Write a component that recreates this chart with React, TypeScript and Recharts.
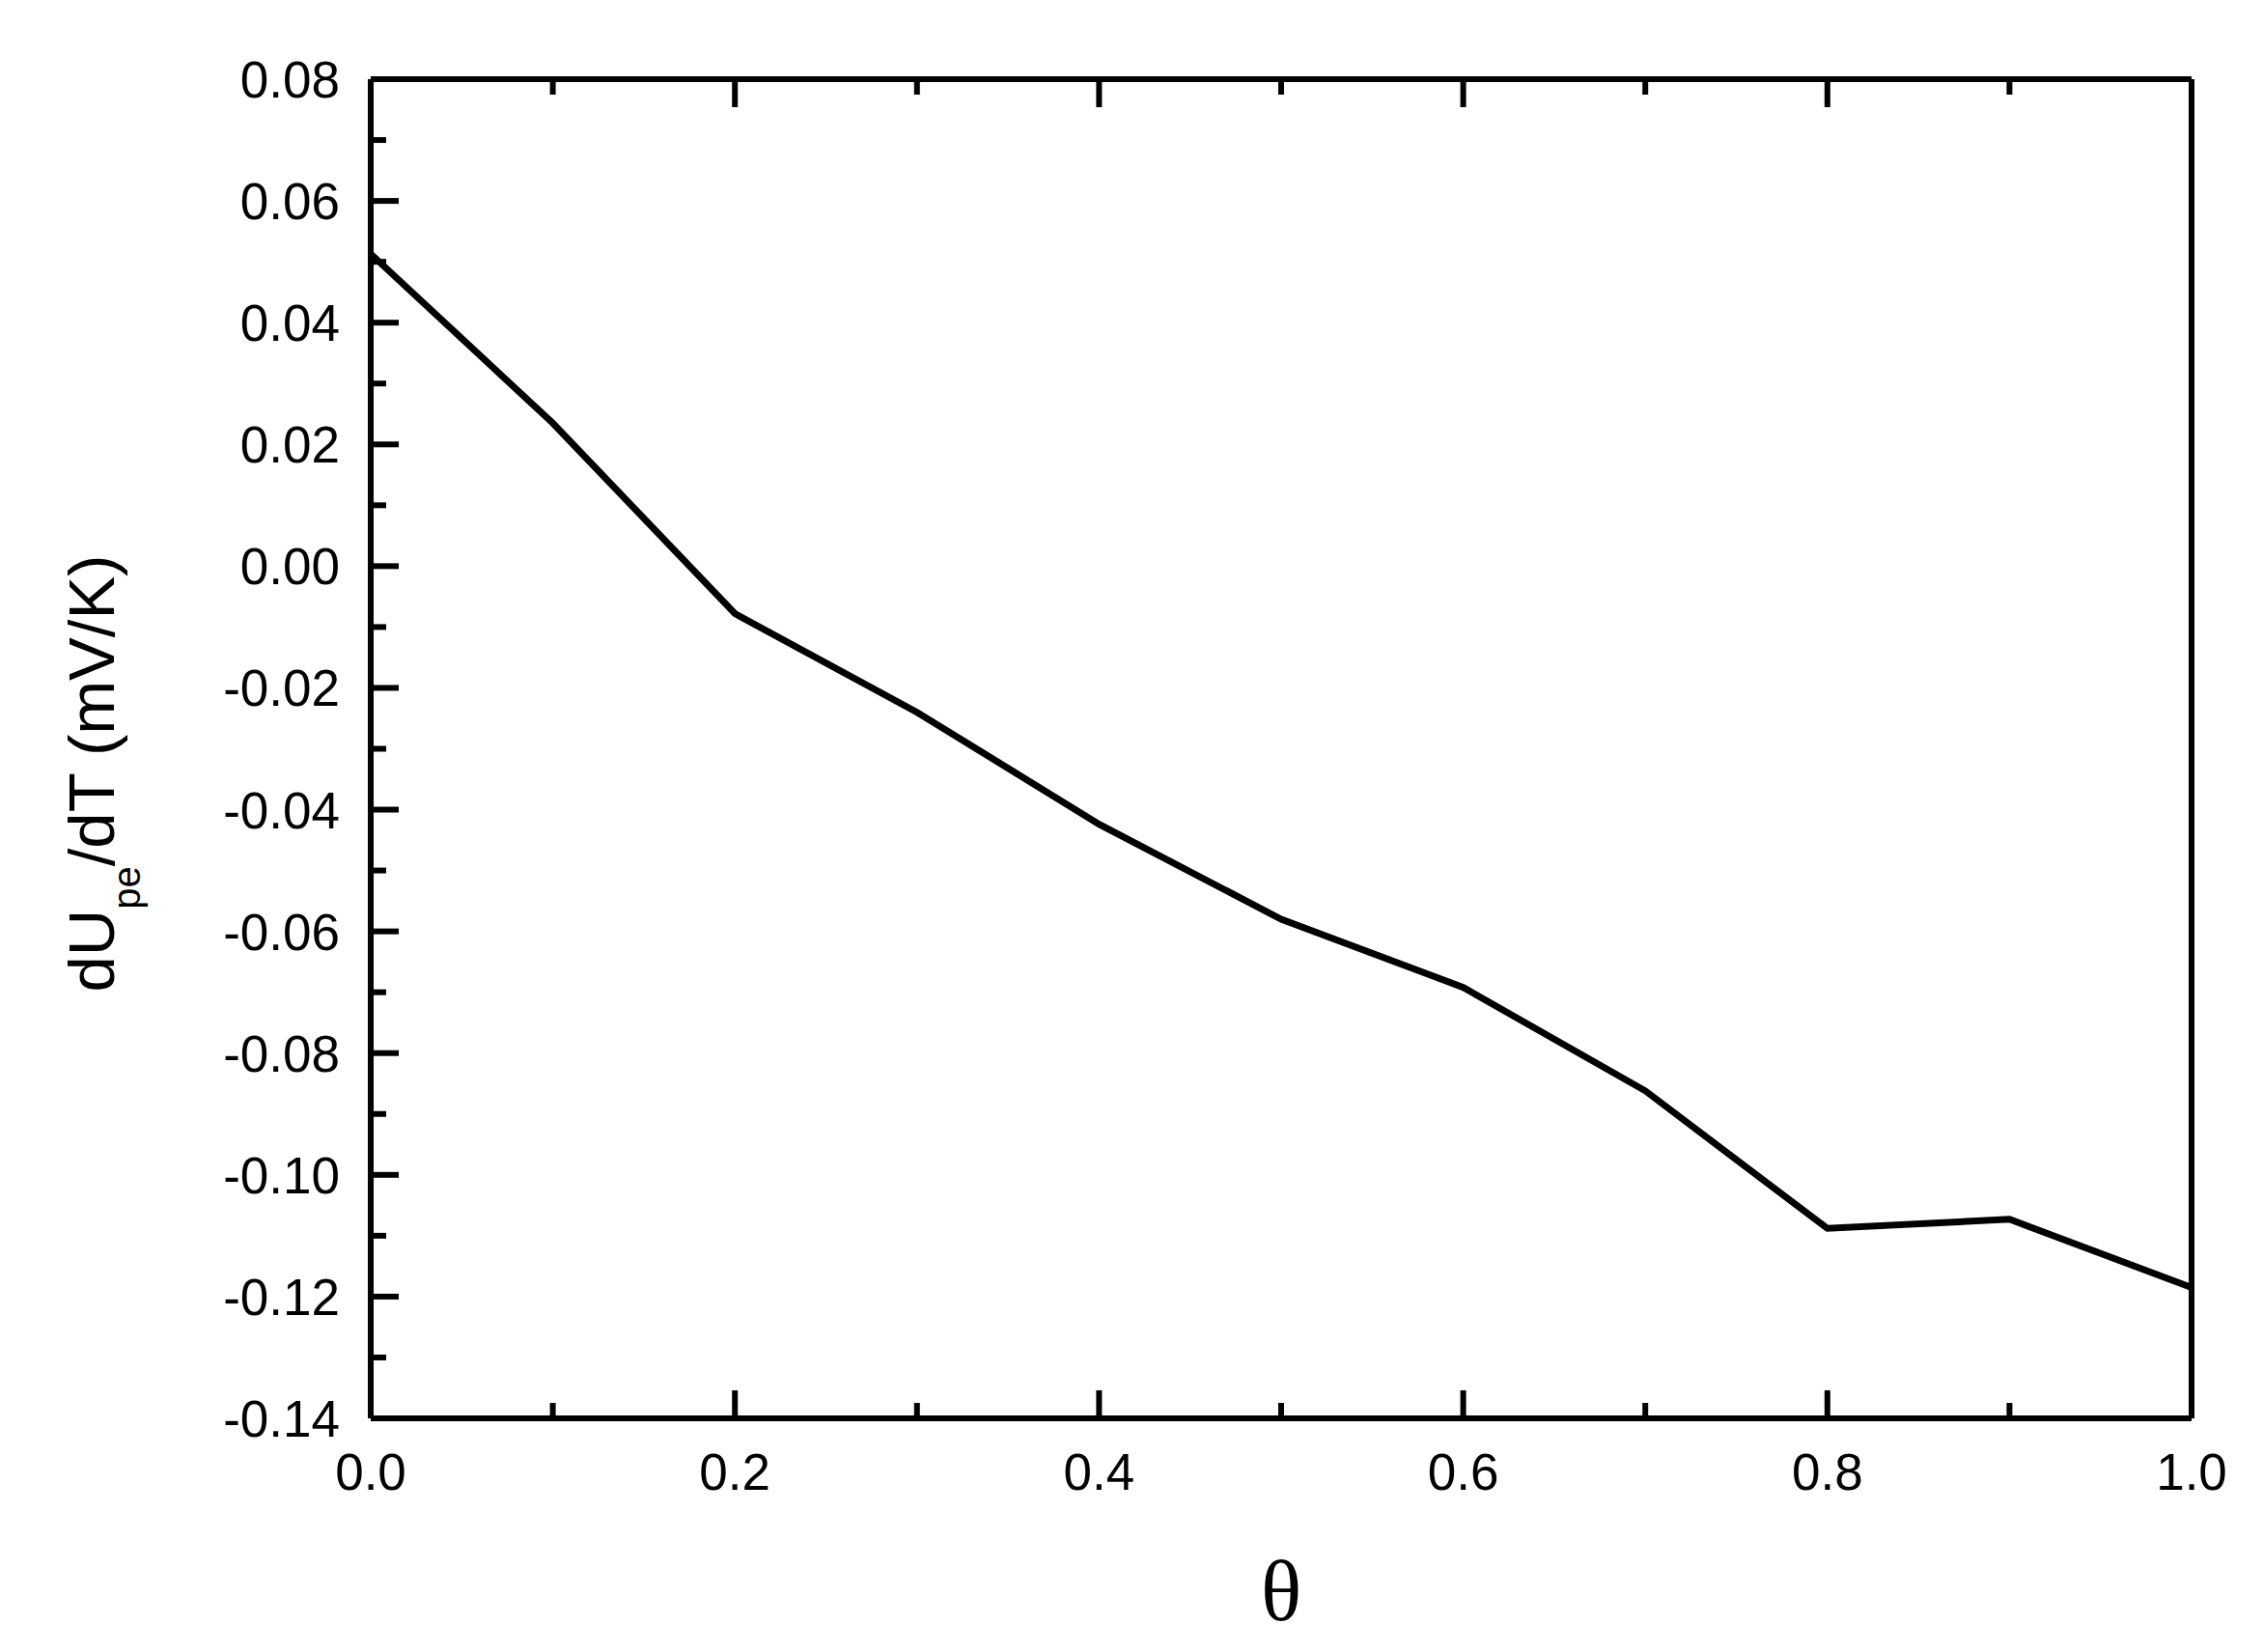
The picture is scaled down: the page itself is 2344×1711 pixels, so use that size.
import React from "react";
import { LineChart, Line, XAxis, YAxis } from "recharts";

// theta values and dU_pe/dT (mV/K)
const theta = [0, 0.1, 0.2, 0.3, 0.4, 0.5, 0.6, 0.7, 0.8, 0.9, 1.0];
const dUdT = [0.0513, 0.0235, -0.0078, -0.024, -0.0424, -0.058, -0.0692, -0.0862, -0.1088, -0.1073, -0.1185];

const xTicks = [0, 0.1, 0.2, 0.3, 0.4, 0.5, 0.6, 0.7, 0.8, 0.9, 1.0];
const yTicks = [
  -0.14, -0.13, -0.12, -0.11, -0.1, -0.09, -0.08, -0.07, -0.06, -0.05, -0.04, -0.03,
  -0.02, -0.01, 0, 0.01, 0.02, 0.03, 0.04, 0.05, 0.06, 0.07, 0.08,
];

const data = theta.map((t, i) => ({ theta: t, value: dUdT[i] }));

const FONT = "'Liberation Sans', Arial, sans-serif";
const MAJOR = 29;
const MINOR = 16;
const TICK_W = 6;

const isMajorX = (v: number) => Math.round(v * 10) % 2 === 0;
const isMajorY = (v: number) => Math.round(v * 100) % 2 === 0;

const fmtY = (v: number) => {
  const s = Math.abs(v).toFixed(2);
  return v < -1e-9 ? "-" + s : s;
};

function BottomTick({ x, y, payload }: any) {
  const major = isMajorX(payload.value);
  return (
    <g>
      <line x1={x} x2={x} y1={y} y2={y - (major ? MAJOR : MINOR)} stroke="#000" strokeWidth={TICK_W} />
      {major && (
        <text x={x} y={y + 74} textAnchor="middle" fontSize={53} fontFamily={FONT} fill="#000">
          {payload.value.toFixed(1)}
        </text>
      )}
    </g>
  );
}

function TopTick({ x, y, payload }: any) {
  const major = isMajorX(payload.value);
  return <line x1={x} x2={x} y1={y} y2={y + (major ? MAJOR : MINOR)} stroke="#000" strokeWidth={TICK_W} />;
}

function LeftTick({ x, y, payload }: any) {
  const major = isMajorY(payload.value);
  return (
    <g>
      <line x1={x} x2={x + (major ? MAJOR : MINOR)} y1={y} y2={y} stroke="#000" strokeWidth={TICK_W} />
      {major && (
        <text x={x - 32} y={y + 19} textAnchor="end" fontSize={53} fontFamily={FONT} fill="#000">
          {fmtY(payload.value)}
        </text>
      )}
    </g>
  );
}

function RightTick({ x, y, payload }: any) {
  const major = isMajorY(payload.value);
  return <line x1={x} x2={x - (major ? MAJOR : MINOR)} y1={y} y2={y} stroke="#000" strokeWidth={TICK_W} />;
}

function YTitle() {
  const bx = 118;
  const cy = 801;
  return (
    <text
      x={bx}
      y={cy}
      transform={`rotate(-90, ${bx}, ${cy})`}
      textAnchor="middle"
      fontFamily={FONT}
      fontSize={67}
      fill="#000"
    >
      dU
      <tspan fontSize={40} dy={27}>pe</tspan>
      <tspan dy={-27}>/dT (mV/K)</tspan>
    </text>
  );
}

function XTitle({ viewBox }: any) {
  const cx = viewBox ? viewBox.x + viewBox.width / 2 : 1327;
  return (
    <text x={cx} y={1678} textAnchor="middle" fontFamily="'Liberation Serif', 'Times New Roman', serif" fontSize={88} fill="#000">
      θ
    </text>
  );
}

export default function App() {
  return (
    <div style={{ position: "absolute", left: 0, top: 0, width: 2344, height: 1711, background: "#fff" }}>
      <LineChart
        width={2344}
        height={1711}
        data={data}
        margin={{ top: 80, right: 72, left: 184, bottom: 142 }}
        style={{ fontFamily: FONT }}
      >
        <XAxis
          dataKey="theta"
          type="number"
          domain={[0, 1]}
          ticks={xTicks}
          interval={0}
          tickSize={0}
          tickMargin={0}
          tickLine={false}
          height={100}
          axisLine={{ stroke: "#000", strokeWidth: 6 }}
          tick={<BottomTick />}
          label={{ content: (p: any) => <XTitle {...p} /> }}
        />
        <XAxis
          xAxisId="top"
          orientation="top"
          dataKey="theta"
          type="number"
          domain={[0, 1]}
          ticks={xTicks}
          interval={0}
          tickSize={0}
          tickMargin={0}
          tickLine={false}
          height={2}
          axisLine={{ stroke: "#000", strokeWidth: 6 }}
          tick={<TopTick />}
        />
        <YAxis
          type="number"
          domain={[-0.14, 0.08]}
          ticks={yTicks}
          interval={0}
          tickSize={0}
          tickMargin={0}
          tickLine={false}
          width={200}
          axisLine={{ stroke: "#000", strokeWidth: 6 }}
          tick={<LeftTick />}
          label={{ content: () => <YTitle /> }}
        />
        <YAxis
          yAxisId="right"
          orientation="right"
          type="number"
          domain={[-0.14, 0.08]}
          ticks={yTicks}
          interval={0}
          tickSize={0}
          tickMargin={0}
          tickLine={false}
          width={2}
          axisLine={{ stroke: "#000", strokeWidth: 6 }}
          tick={<RightTick />}
        />
        <Line
          type="linear"
          dataKey="value"
          stroke="#000"
          strokeWidth={7}
          dot={false}
          activeDot={false}
          isAnimationActive={false}
        />
      </LineChart>
    </div>
  );
}
